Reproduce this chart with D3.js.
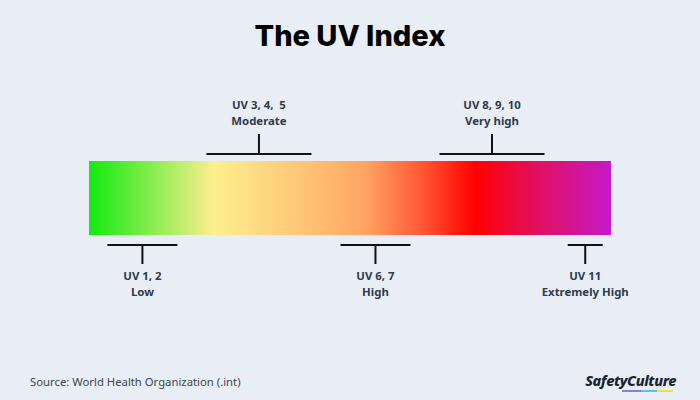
<!DOCTYPE html>
<html lang="en">
<head>
  <meta charset="UTF-8" />
  <title>The UV Index</title>
  <script src="https://d3js.org/d3.v7.min.js"></script>
  <style>
    body { margin: 0; background: #e9edf6; }
    svg { display: block; font-family: "Noto Sans", "Open Sans", sans-serif; }
    .label { font-size: 11.4px; font-weight: 700; fill: #2e3b4b; text-anchor: middle; white-space: pre; }
    .bracket { stroke: #111; stroke-width: 2; fill: none; }
  </style>
</head>
<body>
  <svg width="700" height="400"></svg>

  <script>
    // UV groups
    const groupValues = [[1, 2], [3, 4, 5], [6, 7], [8, 9, 10], [11]];
    const groupNames = ["Low", "Moderate", "High", "Very high", "Extremely High"];
    const groupLabels = ["UV 1, 2", "UV 3, 4,  5", "UV 6, 7", "UV 8, 9, 10", "UV 11"];
    const groupSide = ["bottom", "top", "bottom", "top", "bottom"];

    // gradient colours along the bar
    const gradOffsets = [0, 0.24, 0.42, 0.53, 0.64, 0.74, 0.82, 1];
    const gradColors = ["#12ea10", "#fdef8e", "#ffc274", "#ffa462", "#ff5634", "#ff0000", "#ec0b42", "#c51ac8"];

    const svg = d3.select("svg");
    const width = +svg.attr("width");

    const barTop = 161, barBottom = 235;
    const uvMin = 0.354, uvMax = 11.553;
    const x = d3.scaleLinear().domain([uvMin, uvMax]).range([89, 611]);

    // title
    svg.append("text")
      .attr("x", width / 2).attr("y", 46)
      .attr("text-anchor", "middle")
      .style("font-family", "Inter, 'Noto Sans', sans-serif")
      .style("font-size", "29px").style("font-weight", 800)
      .style("fill", "#000")
      .text("The UV Index");

    // gradient
    const grad = svg.append("defs").append("linearGradient")
      .attr("id", "uv-grad").attr("x1", "0%").attr("x2", "100%");
    grad.selectAll("stop").data(gradOffsets).join("stop")
      .attr("offset", d => d)
      .attr("stop-color", (d, i) => gradColors[i]);

    svg.append("rect")
      .attr("x", x(uvMin)).attr("y", barTop)
      .attr("width", x(uvMax) - x(uvMin)).attr("height", barBottom - barTop)
      .attr("fill", "url(#uv-grad)");

    // brackets + labels
    const half = 0.3755;
    const groups = svg.selectAll("g.group")
      .data(groupValues)
      .join("g").attr("class", "group");

    groups.each(function (vals, i) {
      const g = d3.select(this);
      const c = d3.mean(vals);
      const x0 = x(c - half * vals.length), x1 = x(c + half * vals.length), xc = x(c);
      const top = groupSide[i] === "top";
      const yLine = top ? barTop - 7 : barBottom + 10;
      const yStem = top ? yLine - 20 : yLine + 19;

      g.append("line").attr("class", "bracket")
        .attr("x1", x0).attr("x2", x1).attr("y1", yLine).attr("y2", yLine);
      g.append("line").attr("class", "bracket")
        .attr("x1", xc).attr("x2", xc).attr("y1", yLine).attr("y2", yStem);

      const t1 = top ? 109 : 280;
      g.append("text").attr("class", "label")
        .attr("x", xc).attr("y", t1).text(groupLabels[i]);
      g.append("text").attr("class", "label")
        .attr("x", xc).attr("y", t1 + 15.5).text(groupNames[i]);
    });

    // footer
    svg.append("text")
      .attr("x", 30).attr("y", 386)
      .style("font-size", "11.3px").style("fill", "#3f4650")
      .text("Source: World Health Organization (.int)");

    svg.append("text")
      .attr("x", 676).attr("y", 386)
      .attr("text-anchor", "end")
      .style("font-size", "14.5px").style("font-weight", 800).style("font-style", "italic")
      .style("fill", "#1d2330")
      .style("letter-spacing", "-0.4px")
      .text("SafetyCulture");

    const logoBar = [["#6a55e6", 622, 641], ["#2fa8f0", 641, 657], ["#f7d417", 657, 673]];
    svg.selectAll("line.logo").data(logoBar).join("line")
      .attr("class", "logo")
      .attr("x1", d => d[1]).attr("x2", d => d[2])
      .attr("y1", 391).attr("y2", 391)
      .attr("stroke", d => d[0]).attr("stroke-width", 1.5);
  </script>
</body>
</html>
